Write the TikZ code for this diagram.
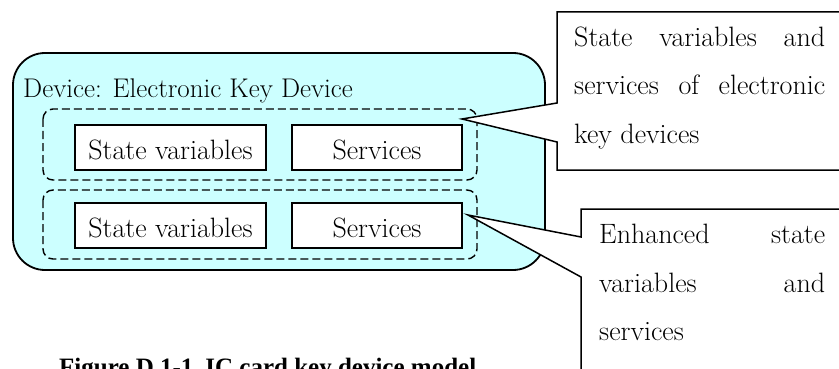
\documentclass[tikz,border=0pt]{standalone}
\usepackage{fontspec}
\newfontfamily\capfont{Liberation Serif}
\definecolor{devcyan}{HTML}{CCFFFF}
\begin{document}
\begin{tikzpicture}[x=1pt,y=-1pt,
  txt/.style={font=\fontsize{28}{32}\selectfont, inner sep=0pt},
  innerbox/.style={draw, line width=1.6pt, fill=white, minimum width=191pt, minimum height=45pt, inner sep=0pt},
  svbox/.style={innerbox, minimum width=170pt},
  group/.style={draw, line width=1.4pt, dash pattern=on 8pt off 4pt, rounded corners=10pt},
  callout/.style={draw, line width=1.5pt, fill=white}]
\clip (0,0) rectangle (839,369);
\fill[white] (0,0) rectangle (839,369);
% device
\draw[line width=1.8pt, fill=devcyan, rounded corners=32pt] (13,53) rectangle (545,270);
\node[txt, anchor=base west, font=\fontsize{27}{32}\selectfont] (devlabel) at (23,97.7) {Device: Electronic Key Device};
% groups
\draw[group] (43,109) rectangle (477,180);
\draw[group] (43,190) rectangle (477,259);
% boxes row 1
\node[innerbox] (sv1) at (170.5,147.5) {};
\node[svbox] (se1) at (377,147.5) {};
\node[txt, anchor=base] (sv1t) at (170.5,159) {State variables};
\node[txt, anchor=base] (se1t) at (377,159) {Services};
% boxes row 2
\node[innerbox] (sv2) at (170.5,225.5) {};
\node[svbox] (se2) at (377,225.5) {};
\node[txt, anchor=base] (sv2t) at (170.5,237) {State variables};
\node[txt, anchor=base] (se2t) at (377,237) {Services};
% callout 1
\coordinate (tip1) at (462,119);
\draw[callout] (845,12) -- (557,12) -- (557,103) -- (tip1) -- (557,142) -- (557,170) -- (845,170);
\node[txt, anchor=base west] (c1a) at (574,47) {\makebox[251pt][s]{State variables and}};
\node[txt, anchor=base west] (c1b) at (574,95) {\makebox[251pt][s]{services of electronic}};
\node[txt, anchor=base west] (c1c) at (574,143) {key devices};
% callout 2
\coordinate (tip2) at (468,215);
\draw[callout] (845,209) -- (581,209) -- (581,237) -- (tip2) -- (581,277) -- (581,380) -- (845,380);
\node[txt, anchor=base west] (c2a) at (599,243) {\makebox[226pt][s]{Enhanced state}};
\node[txt, anchor=base west] (c2b) at (599,292) {\makebox[226pt][s]{variables and}};
\node[txt, anchor=base west] (c2c) at (599,340) {services};
% caption
\node[anchor=base west, inner sep=0pt, font=\capfont\bfseries\fontsize{25}{30}\selectfont] (caption) at (59,375) {Figure D.1-1\hspace{12pt}IC card key device model};
\end{tikzpicture}
\end{document}
